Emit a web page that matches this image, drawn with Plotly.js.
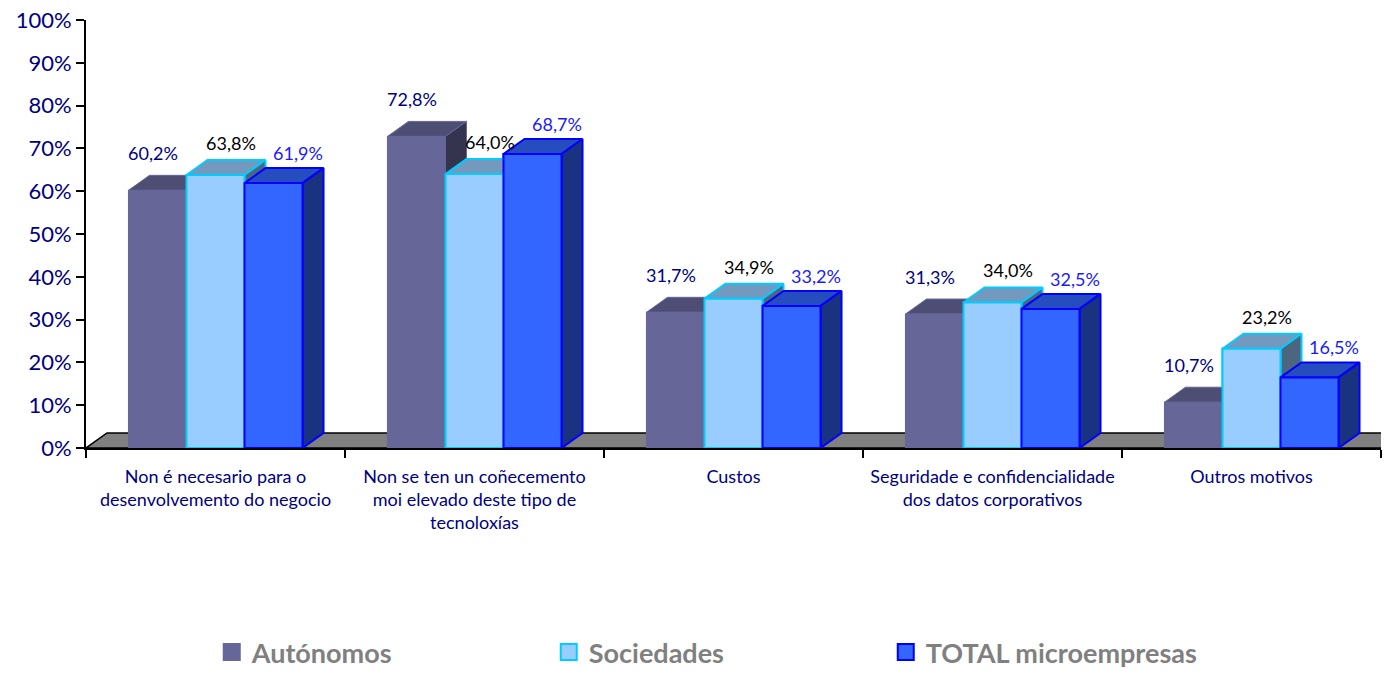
<!DOCTYPE html>
<html>
<head>
<meta charset="utf-8">
<script src="https://cdn.plot.ly/plotly-3.0.1.min.js"></script>
<style>html,body{margin:0;padding:0;background:#fff;}#chart{width:1384px;height:674px;}</style>
</head>
<body>
<div id="chart"></div>
<script>
// ---- data ----
const categories = [
  "Non é necesario para o<br>desenvolvemento do negocio",
  "Non se ten un coñecemento<br>moi elevado deste tipo de<br>tecnoloxías",
  "Custos",
  "Seguridade e confidencialidade<br>dos datos corporativos",
  "Outros motivos"
];
const seriesNames = ["Autónomos", "Sociedades", "TOTAL microempresas"];
const autonomos  = [60.2, 72.8, 31.7, 31.3, 10.7];
const sociedades = [63.8, 64.0, 34.9, 34.0, 23.2];
const totalMicro = [61.9, 68.7, 33.2, 32.5, 16.5];
const yTickVals = [0, 10, 20, 30, 40, 50, 60, 70, 80, 90, 100];
const yTickText = ["0%", "10%", "20%", "30%", "40%", "50%", "60%", "70%", "80%", "90%", "100%"];

// ---- styles ----
const styles = [
  {front: "#666699", top: "#4e4e74", side: "#34344f", line: "#66669a", lw: 1, label: "#000080", lx: -4, ly: 37},
  {front: "#99ccff", top: "#7399bf", side: "#4d6680", line: "#00ccff", lw: 2, label: "#000000", lx: 15, ly: 32},
  {front: "#3366ff", top: "#264dbf", side: "#1a3380", line: "#0000ff", lw: 2, label: "#1a1aff", lx: 24, ly: 30}
];
const FONT = "Lato, 'Open Sans', sans-serif";
const M = {l: 86, r: 3, t: 20, b: 226};
const plotW = 1384 - M.l - M.r, plotH = 674 - M.t - M.b;
const xRange = [-0.5, categories.length - 0.5];
const pxPerX = plotW / (xRange[1] - xRange[0]);
const pxPerY = plotH / 100;
const BW = 0.224;                 // bar width (category units)
const DX = 21 / pxPerX;           // 3D depth offset (x units)
const DY = 15 / pxPerY;           // 3D depth offset (y units)

const allSeries = [autonomos, sociedades, totalMicro];
const idx = categories.map((c, i) => i);
const traces = [];
const annotations = [];

// bar traces (front faces)
allSeries.forEach((vals, s) => {
  traces.push({
    type: "bar", name: seriesNames[s], x: idx, y: vals, showlegend: false,
    marker: {color: styles[s].front, line: {color: styles[s].line, width: styles[s].lw}},
    hoverinfo: "skip"
  });
});

// 3D faces drawn in painter's order through data coordinates
function poly(pts, xs, ys) { pts.forEach(p => { xs.push(p[0]); ys.push(p[1]); }); xs.push(pts[0][0]); ys.push(pts[0][1]); xs.push(null); ys.push(null); }
allSeries.forEach((vals, s) => {
  const faces = {top: [[], []], side: [[], []], front: [[], []]};
  vals.forEach((v, i) => {
    const xc = i + (s - 1) * BW, x0 = xc - BW / 2, x1 = xc + BW / 2;
    poly([[x0, v], [x1, v], [x1 + DX, v + DY], [x0 + DX, v + DY]], faces.top[0], faces.top[1]);
    poly([[x1, 0], [x1 + DX, DY], [x1 + DX, v + DY], [x1, v]], faces.side[0], faces.side[1]);
    poly([[x0, 0], [x1, 0], [x1, v], [x0, v]], faces.front[0], faces.front[1]);
    annotations.push({
      x: xc, y: v, xref: "x", yref: "y", text: v.toFixed(1).replace(".", ",") + "%",
      showarrow: false, xanchor: "center", yanchor: "middle",
      xshift: styles[s].lx, yshift: styles[s].ly,
      font: {family: FONT, size: 18, color: styles[s].label}
    });
  });
  ["top", "side", "front"].forEach(f => {
    traces.push({
      type: "scatter", mode: "lines", x: faces[f][0], y: faces[f][1],
      fill: "toself", fillcolor: styles[s][f],
      line: {color: styles[s].line, width: styles[s].lw},
      showlegend: false, hoverinfo: "skip", cliponaxis: false
    });
  });
});

// legend entries (square swatches)
seriesNames.forEach((n, s) => {
  traces.push({
    type: "scatter", mode: "markers", name: n, x: [null], y: [null],
    marker: {symbol: "square", size: 16, color: styles[s].front, line: {color: styles[s].line, width: 2}},
    hoverinfo: "skip"
  });
});

const layout = {
  width: 1384, height: 674,
  margin: M,
  paper_bgcolor: "#ffffff", plot_bgcolor: "#ffffff",
  barmode: "group", bargap: 1 - 3 * BW, bargroupgap: 0,
  showlegend: true,
  legend: {
    orientation: "h", xref: "container", x: 0.153, xanchor: "left", yref: "container", y: 0.032, yanchor: "middle",
    font: {family: FONT, size: 27, color: "#808080", weight: "bold"},
    entrywidth: 292, entrywidthmode: "pixels", traceorder: "normal", itemsizing: "trace"
  },
  xaxis: {
    type: "linear", range: xRange, fixedrange: true,
    tickmode: "array", tickvals: idx, ticktext: categories, ticks: "",
    ticklabelstandoff: 11,
    tickfont: {family: FONT, size: 18, color: "#000080"},
    showgrid: false, zeroline: false,
    showline: true, linecolor: "#000000", linewidth: 2,
    minor: {tickmode: "array", tickvals: idx.concat([categories.length]).map(i => i - 0.5), ticks: "outside", ticklen: 8, tickwidth: 2, tickcolor: "#000000", showgrid: false}
  },
  yaxis: {
    range: [0, 100], fixedrange: true,
    tickmode: "array", tickvals: yTickVals, ticktext: yTickText,
    ticks: "outside", ticklen: 8, tickwidth: 2, tickcolor: "#000000",
    tickfont: {family: FONT, size: 22, color: "#000080"},
    showgrid: false, zeroline: false,
    showline: true, linecolor: "#000000", linewidth: 2
  },
  shapes: [{
    type: "path", xref: "x", yref: "y", layer: "below",
    path: `M ${xRange[0]},0 L ${xRange[1] + 1},0 L ${xRange[1] + 1 + DX},${DY} L ${xRange[0] + DX},${DY} Z`,
    fillcolor: "#808080", line: {color: "#000000", width: 1.5}
  }],
  annotations: annotations
};

Plotly.newPlot("chart", traces, layout, {displayModeBar: false, staticPlot: true});
</script>
</body>
</html>
